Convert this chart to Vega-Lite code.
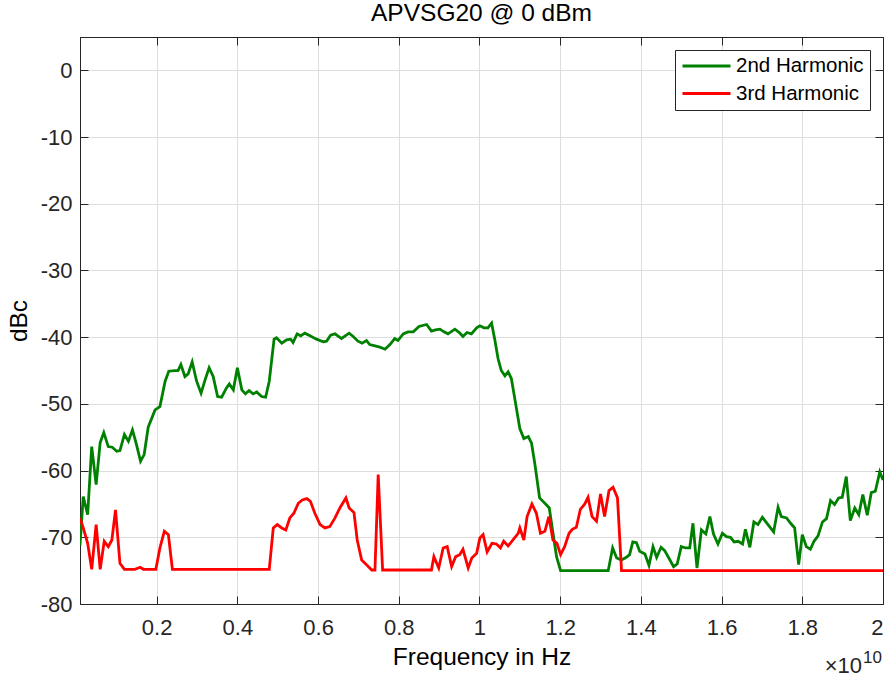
{
  "$schema": "https://vega.github.io/schema/vega-lite/v6.json",
  "width": 803,
  "height": 567,
  "autosize": {"type": "none"},
  "padding": {"left": 80, "top": 37, "right": 8, "bottom": 73},
  "title": {"text": "APVSG20 @ 0 dBm", "fontSize": 24.5, "font": "Liberation Sans", "fontWeight": "normal", "color": "#000000", "offset": 10},
  "data": {"values": [
    {"s":"2nd Harmonic","f":0.01,"db":-71.2},{"s":"2nd Harmonic","f":0.018,"db":-63.9},{"s":"2nd Harmonic","f":0.029,"db":-66.6},{"s":"2nd Harmonic","f":0.039,"db":-56.4},{"s":"2nd Harmonic","f":0.05,"db":-62.1},{"s":"2nd Harmonic","f":0.06,"db":-55.8},{"s":"2nd Harmonic","f":0.069,"db":-54.3},{"s":"2nd Harmonic","f":0.08,"db":-56.4},{"s":"2nd Harmonic","f":0.09,"db":-56.5},{"s":"2nd Harmonic","f":0.101,"db":-57.1},{"s":"2nd Harmonic","f":0.109,"db":-57.0},{"s":"2nd Harmonic","f":0.12,"db":-54.6},{"s":"2nd Harmonic","f":0.13,"db":-55.6},{"s":"2nd Harmonic","f":0.14,"db":-53.9},{"s":"2nd Harmonic","f":0.15,"db":-56.1},{"s":"2nd Harmonic","f":0.16,"db":-58.6},{"s":"2nd Harmonic","f":0.169,"db":-57.6},{"s":"2nd Harmonic","f":0.179,"db":-53.5},{"s":"2nd Harmonic","f":0.196,"db":-50.9},{"s":"2nd Harmonic","f":0.208,"db":-50.4},{"s":"2nd Harmonic","f":0.221,"db":-46.6},{"s":"2nd Harmonic","f":0.23,"db":-45.1},{"s":"2nd Harmonic","f":0.245,"db":-45.0},{"s":"2nd Harmonic","f":0.253,"db":-45.0},{"s":"2nd Harmonic","f":0.26,"db":-44.1},{"s":"2nd Harmonic","f":0.27,"db":-45.9},{"s":"2nd Harmonic","f":0.278,"db":-45.5},{"s":"2nd Harmonic","f":0.288,"db":-43.7},{"s":"2nd Harmonic","f":0.299,"db":-46.6},{"s":"2nd Harmonic","f":0.31,"db":-48.4},{"s":"2nd Harmonic","f":0.32,"db":-46.4},{"s":"2nd Harmonic","f":0.33,"db":-44.6},{"s":"2nd Harmonic","f":0.34,"db":-45.9},{"s":"2nd Harmonic","f":0.351,"db":-48.9},{"s":"2nd Harmonic","f":0.361,"db":-49.0},{"s":"2nd Harmonic","f":0.373,"db":-47.6},{"s":"2nd Harmonic","f":0.38,"db":-47.0},{"s":"2nd Harmonic","f":0.39,"db":-47.9},{"s":"2nd Harmonic","f":0.4,"db":-44.6},{"s":"2nd Harmonic","f":0.411,"db":-47.9},{"s":"2nd Harmonic","f":0.42,"db":-48.5},{"s":"2nd Harmonic","f":0.429,"db":-48.0},{"s":"2nd Harmonic","f":0.439,"db":-48.5},{"s":"2nd Harmonic","f":0.448,"db":-48.2},{"s":"2nd Harmonic","f":0.46,"db":-48.9},{"s":"2nd Harmonic","f":0.47,"db":-49.0},{"s":"2nd Harmonic","f":0.479,"db":-46.6},{"s":"2nd Harmonic","f":0.491,"db":-40.3},{"s":"2nd Harmonic","f":0.497,"db":-40.1},{"s":"2nd Harmonic","f":0.51,"db":-40.9},{"s":"2nd Harmonic","f":0.522,"db":-40.4},{"s":"2nd Harmonic","f":0.532,"db":-40.3},{"s":"2nd Harmonic","f":0.538,"db":-40.8},{"s":"2nd Harmonic","f":0.548,"db":-39.5},{"s":"2nd Harmonic","f":0.557,"db":-39.8},{"s":"2nd Harmonic","f":0.567,"db":-39.4},{"s":"2nd Harmonic","f":0.58,"db":-39.8},{"s":"2nd Harmonic","f":0.596,"db":-40.3},{"s":"2nd Harmonic","f":0.613,"db":-40.7},{"s":"2nd Harmonic","f":0.621,"db":-40.6},{"s":"2nd Harmonic","f":0.631,"db":-39.7},{"s":"2nd Harmonic","f":0.642,"db":-39.5},{"s":"2nd Harmonic","f":0.658,"db":-40.2},{"s":"2nd Harmonic","f":0.677,"db":-39.4},{"s":"2nd Harmonic","f":0.687,"db":-39.9},{"s":"2nd Harmonic","f":0.699,"db":-40.6},{"s":"2nd Harmonic","f":0.709,"db":-40.9},{"s":"2nd Harmonic","f":0.72,"db":-40.5},{"s":"2nd Harmonic","f":0.728,"db":-41.1},{"s":"2nd Harmonic","f":0.741,"db":-41.3},{"s":"2nd Harmonic","f":0.753,"db":-41.5},{"s":"2nd Harmonic","f":0.766,"db":-41.8},{"s":"2nd Harmonic","f":0.778,"db":-41.1},{"s":"2nd Harmonic","f":0.79,"db":-40.2},{"s":"2nd Harmonic","f":0.798,"db":-40.5},{"s":"2nd Harmonic","f":0.811,"db":-39.5},{"s":"2nd Harmonic","f":0.823,"db":-39.2},{"s":"2nd Harmonic","f":0.836,"db":-39.2},{"s":"2nd Harmonic","f":0.85,"db":-38.4},{"s":"2nd Harmonic","f":0.869,"db":-38.1},{"s":"2nd Harmonic","f":0.881,"db":-39.1},{"s":"2nd Harmonic","f":0.891,"db":-38.9},{"s":"2nd Harmonic","f":0.902,"db":-38.8},{"s":"2nd Harmonic","f":0.912,"db":-39.2},{"s":"2nd Harmonic","f":0.922,"db":-39.5},{"s":"2nd Harmonic","f":0.939,"db":-38.8},{"s":"2nd Harmonic","f":0.95,"db":-39.3},{"s":"2nd Harmonic","f":0.959,"db":-39.9},{"s":"2nd Harmonic","f":0.969,"db":-39.3},{"s":"2nd Harmonic","f":0.98,"db":-39.5},{"s":"2nd Harmonic","f":0.993,"db":-38.6},{"s":"2nd Harmonic","f":1.001,"db":-38.3},{"s":"2nd Harmonic","f":1.011,"db":-38.6},{"s":"2nd Harmonic","f":1.021,"db":-38.6},{"s":"2nd Harmonic","f":1.03,"db":-37.9},{"s":"2nd Harmonic","f":1.038,"db":-40.4},{"s":"2nd Harmonic","f":1.046,"db":-43.2},{"s":"2nd Harmonic","f":1.054,"db":-45.0},{"s":"2nd Harmonic","f":1.063,"db":-45.8},{"s":"2nd Harmonic","f":1.071,"db":-45.2},{"s":"2nd Harmonic","f":1.079,"db":-46.2},{"s":"2nd Harmonic","f":1.088,"db":-49.4},{"s":"2nd Harmonic","f":1.1,"db":-53.7},{"s":"2nd Harmonic","f":1.11,"db":-55.2},{"s":"2nd Harmonic","f":1.121,"db":-54.9},{"s":"2nd Harmonic","f":1.129,"db":-55.9},{"s":"2nd Harmonic","f":1.137,"db":-58.9},{"s":"2nd Harmonic","f":1.149,"db":-64.1},{"s":"2nd Harmonic","f":1.162,"db":-64.9},{"s":"2nd Harmonic","f":1.173,"db":-65.6},{"s":"2nd Harmonic","f":1.181,"db":-68.9},{"s":"2nd Harmonic","f":1.191,"db":-72.9},{"s":"2nd Harmonic","f":1.201,"db":-75.0},{"s":"2nd Harmonic","f":1.319,"db":-75.0},{"s":"2nd Harmonic","f":1.33,"db":-71.6},{"s":"2nd Harmonic","f":1.34,"db":-73.1},{"s":"2nd Harmonic","f":1.352,"db":-73.4},{"s":"2nd Harmonic","f":1.364,"db":-73.0},{"s":"2nd Harmonic","f":1.372,"db":-72.6},{"s":"2nd Harmonic","f":1.38,"db":-70.7},{"s":"2nd Harmonic","f":1.389,"db":-70.8},{"s":"2nd Harmonic","f":1.397,"db":-72.1},{"s":"2nd Harmonic","f":1.41,"db":-72.5},{"s":"2nd Harmonic","f":1.42,"db":-74.2},{"s":"2nd Harmonic","f":1.43,"db":-71.4},{"s":"2nd Harmonic","f":1.439,"db":-73.0},{"s":"2nd Harmonic","f":1.45,"db":-71.5},{"s":"2nd Harmonic","f":1.459,"db":-72.0},{"s":"2nd Harmonic","f":1.472,"db":-73.4},{"s":"2nd Harmonic","f":1.481,"db":-74.4},{"s":"2nd Harmonic","f":1.49,"db":-74.0},{"s":"2nd Harmonic","f":1.5,"db":-71.4},{"s":"2nd Harmonic","f":1.511,"db":-71.6},{"s":"2nd Harmonic","f":1.521,"db":-71.6},{"s":"2nd Harmonic","f":1.529,"db":-67.9},{"s":"2nd Harmonic","f":1.539,"db":-74.6},{"s":"2nd Harmonic","f":1.55,"db":-68.9},{"s":"2nd Harmonic","f":1.561,"db":-69.5},{"s":"2nd Harmonic","f":1.571,"db":-66.9},{"s":"2nd Harmonic","f":1.58,"db":-69.5},{"s":"2nd Harmonic","f":1.591,"db":-71.0},{"s":"2nd Harmonic","f":1.602,"db":-69.4},{"s":"2nd Harmonic","f":1.612,"db":-69.9},{"s":"2nd Harmonic","f":1.622,"db":-70.0},{"s":"2nd Harmonic","f":1.631,"db":-70.7},{"s":"2nd Harmonic","f":1.641,"db":-70.6},{"s":"2nd Harmonic","f":1.652,"db":-71.0},{"s":"2nd Harmonic","f":1.659,"db":-68.8},{"s":"2nd Harmonic","f":1.67,"db":-71.5},{"s":"2nd Harmonic","f":1.68,"db":-67.7},{"s":"2nd Harmonic","f":1.69,"db":-68.1},{"s":"2nd Harmonic","f":1.701,"db":-67.0},{"s":"2nd Harmonic","f":1.715,"db":-68.1},{"s":"2nd Harmonic","f":1.729,"db":-69.2},{"s":"2nd Harmonic","f":1.74,"db":-65.5},{"s":"2nd Harmonic","f":1.748,"db":-66.9},{"s":"2nd Harmonic","f":1.761,"db":-67.1},{"s":"2nd Harmonic","f":1.771,"db":-67.9},{"s":"2nd Harmonic","f":1.781,"db":-68.6},{"s":"2nd Harmonic","f":1.791,"db":-74.1},{"s":"2nd Harmonic","f":1.8,"db":-69.6},{"s":"2nd Harmonic","f":1.81,"db":-71.4},{"s":"2nd Harmonic","f":1.82,"db":-71.8},{"s":"2nd Harmonic","f":1.829,"db":-70.6},{"s":"2nd Harmonic","f":1.839,"db":-69.8},{"s":"2nd Harmonic","f":1.85,"db":-67.7},{"s":"2nd Harmonic","f":1.86,"db":-67.2},{"s":"2nd Harmonic","f":1.87,"db":-64.5},{"s":"2nd Harmonic","f":1.88,"db":-65.1},{"s":"2nd Harmonic","f":1.89,"db":-64.1},{"s":"2nd Harmonic","f":1.899,"db":-64.0},{"s":"2nd Harmonic","f":1.909,"db":-60.9},{"s":"2nd Harmonic","f":1.919,"db":-67.5},{"s":"2nd Harmonic","f":1.93,"db":-65.6},{"s":"2nd Harmonic","f":1.94,"db":-66.6},{"s":"2nd Harmonic","f":1.95,"db":-63.6},{"s":"2nd Harmonic","f":1.961,"db":-66.7},{"s":"2nd Harmonic","f":1.971,"db":-63.3},{"s":"2nd Harmonic","f":1.981,"db":-63.1},{"s":"2nd Harmonic","f":1.992,"db":-60.2},{"s":"2nd Harmonic","f":2.0,"db":-61.4},
    {"s":"3rd Harmonic","f":0.01,"db":-67.1},{"s":"3rd Harmonic","f":0.018,"db":-68.6},{"s":"3rd Harmonic","f":0.029,"db":-70.9},{"s":"3rd Harmonic","f":0.039,"db":-74.8},{"s":"3rd Harmonic","f":0.05,"db":-68.1},{"s":"3rd Harmonic","f":0.06,"db":-74.8},{"s":"3rd Harmonic","f":0.07,"db":-70.6},{"s":"3rd Harmonic","f":0.08,"db":-71.4},{"s":"3rd Harmonic","f":0.089,"db":-70.4},{"s":"3rd Harmonic","f":0.098,"db":-65.9},{"s":"3rd Harmonic","f":0.109,"db":-73.9},{"s":"3rd Harmonic","f":0.12,"db":-74.8},{"s":"3rd Harmonic","f":0.146,"db":-74.8},{"s":"3rd Harmonic","f":0.159,"db":-74.5},{"s":"3rd Harmonic","f":0.167,"db":-74.8},{"s":"3rd Harmonic","f":0.198,"db":-74.8},{"s":"3rd Harmonic","f":0.208,"db":-71.6},{"s":"3rd Harmonic","f":0.219,"db":-69.1},{"s":"3rd Harmonic","f":0.229,"db":-69.6},{"s":"3rd Harmonic","f":0.239,"db":-74.8},{"s":"3rd Harmonic","f":0.479,"db":-74.8},{"s":"3rd Harmonic","f":0.489,"db":-68.6},{"s":"3rd Harmonic","f":0.499,"db":-68.1},{"s":"3rd Harmonic","f":0.51,"db":-68.6},{"s":"3rd Harmonic","f":0.52,"db":-68.9},{"s":"3rd Harmonic","f":0.53,"db":-67.1},{"s":"3rd Harmonic","f":0.54,"db":-66.4},{"s":"3rd Harmonic","f":0.551,"db":-64.9},{"s":"3rd Harmonic","f":0.561,"db":-64.4},{"s":"3rd Harmonic","f":0.572,"db":-64.2},{"s":"3rd Harmonic","f":0.581,"db":-64.6},{"s":"3rd Harmonic","f":0.592,"db":-66.4},{"s":"3rd Harmonic","f":0.605,"db":-68.1},{"s":"3rd Harmonic","f":0.617,"db":-68.6},{"s":"3rd Harmonic","f":0.629,"db":-68.4},{"s":"3rd Harmonic","f":0.642,"db":-67.1},{"s":"3rd Harmonic","f":0.654,"db":-65.6},{"s":"3rd Harmonic","f":0.669,"db":-64.1},{"s":"3rd Harmonic","f":0.677,"db":-65.6},{"s":"3rd Harmonic","f":0.689,"db":-66.3},{"s":"3rd Harmonic","f":0.697,"db":-70.4},{"s":"3rd Harmonic","f":0.708,"db":-73.4},{"s":"3rd Harmonic","f":0.72,"db":-74.1},{"s":"3rd Harmonic","f":0.733,"db":-74.9},{"s":"3rd Harmonic","f":0.741,"db":-74.9},{"s":"3rd Harmonic","f":0.749,"db":-60.6},{"s":"3rd Harmonic","f":0.76,"db":-74.9},{"s":"3rd Harmonic","f":0.881,"db":-74.9},{"s":"3rd Harmonic","f":0.887,"db":-72.9},{"s":"3rd Harmonic","f":0.899,"db":-74.6},{"s":"3rd Harmonic","f":0.91,"db":-71.6},{"s":"3rd Harmonic","f":0.92,"db":-71.4},{"s":"3rd Harmonic","f":0.931,"db":-74.4},{"s":"3rd Harmonic","f":0.941,"db":-72.9},{"s":"3rd Harmonic","f":0.951,"db":-72.6},{"s":"3rd Harmonic","f":0.959,"db":-71.8},{"s":"3rd Harmonic","f":0.972,"db":-74.6},{"s":"3rd Harmonic","f":0.981,"db":-73.1},{"s":"3rd Harmonic","f":0.993,"db":-72.4},{"s":"3rd Harmonic","f":1.001,"db":-70.1},{"s":"3rd Harmonic","f":1.009,"db":-69.6},{"s":"3rd Harmonic","f":1.019,"db":-72.2},{"s":"3rd Harmonic","f":1.031,"db":-70.9},{"s":"3rd Harmonic","f":1.042,"db":-71.0},{"s":"3rd Harmonic","f":1.052,"db":-71.6},{"s":"3rd Harmonic","f":1.06,"db":-70.6},{"s":"3rd Harmonic","f":1.071,"db":-71.3},{"s":"3rd Harmonic","f":1.083,"db":-70.4},{"s":"3rd Harmonic","f":1.096,"db":-69.4},{"s":"3rd Harmonic","f":1.1,"db":-68.6},{"s":"3rd Harmonic","f":1.11,"db":-70.4},{"s":"3rd Harmonic","f":1.118,"db":-66.9},{"s":"3rd Harmonic","f":1.13,"db":-65.0},{"s":"3rd Harmonic","f":1.141,"db":-66.4},{"s":"3rd Harmonic","f":1.151,"db":-69.4},{"s":"3rd Harmonic","f":1.162,"db":-69.1},{"s":"3rd Harmonic","f":1.172,"db":-66.9},{"s":"3rd Harmonic","f":1.182,"db":-70.4},{"s":"3rd Harmonic","f":1.192,"db":-70.9},{"s":"3rd Harmonic","f":1.201,"db":-72.6},{"s":"3rd Harmonic","f":1.211,"db":-71.4},{"s":"3rd Harmonic","f":1.222,"db":-69.4},{"s":"3rd Harmonic","f":1.23,"db":-68.8},{"s":"3rd Harmonic","f":1.24,"db":-68.5},{"s":"3rd Harmonic","f":1.25,"db":-65.8},{"s":"3rd Harmonic","f":1.261,"db":-65.0},{"s":"3rd Harmonic","f":1.269,"db":-64.0},{"s":"3rd Harmonic","f":1.279,"db":-66.9},{"s":"3rd Harmonic","f":1.29,"db":-67.6},{"s":"3rd Harmonic","f":1.3,"db":-63.5},{"s":"3rd Harmonic","f":1.31,"db":-66.9},{"s":"3rd Harmonic","f":1.321,"db":-63.0},{"s":"3rd Harmonic","f":1.331,"db":-62.5},{"s":"3rd Harmonic","f":1.342,"db":-64.1},{"s":"3rd Harmonic","f":1.352,"db":-75.0},{"s":"3rd Harmonic","f":2.0,"db":-75.0}
  ]},
  "layer": [
    {
      "mark": {"type": "line", "strokeWidth": 2.8, "clip": true},
      "encoding": {
        "x": {"field": "f", "type": "quantitative", "scale": {"domain": [0.01, 2], "nice": false, "zero": false},
              "axis": {"values": [0.2,0.4,0.6,0.8,1,1.2,1.4,1.6,1.8,2], "labelExpr": "toString(datum.value)", "title": "Frequency in Hz", "titlePadding": 7, "labelPadding": 21}},
        "y": {"field": "db", "type": "quantitative", "scale": {"domain": [-80, 5], "nice": false, "zero": false},
              "axis": {"values": [-80,-70,-60,-50,-40,-30,-20,-10,0], "labelExpr": "toString(datum.value)", "title": "dBc", "titlePadding": 9, "labelPadding": 16}},
        "color": {"field": "s", "type": "nominal", "scale": {"domain": ["2nd Harmonic", "3rd Harmonic"], "range": ["#008000", "#ff0000"]}, "legend": {"title": null}}
      }
    },
    {
      "mark": {"type": "line", "strokeOpacity": 0},
      "encoding": {
        "x": {"field": "f", "type": "quantitative", "axis": {"orient": "top", "values": [0.2,0.4,0.6,0.8,1,1.2,1.4,1.6,1.8,2], "labels": false, "grid": false, "title": null}},
        "y": {"field": "db", "type": "quantitative", "axis": {"orient": "right", "values": [-80,-70,-60,-50,-40,-30,-20,-10,0], "labels": false, "grid": false, "title": null}},
        "detail": {"field": "s"}
      }
    },
    {
      "data": {"values": [{"label": "×10"}]},
      "mark": {"type": "text", "align": "right", "baseline": "alphabetic", "dx": -21, "dy": 69, "fontSize": 22, "font": "Liberation Sans", "color": "#262626"},
      "encoding": {"text": {"field": "label"}, "x": {"datum": 2, "type": "quantitative", "axis": null}, "y": {"datum": -80, "type": "quantitative", "axis": null}}
    },
    {
      "data": {"values": [{"label": "10"}]},
      "mark": {"type": "text", "align": "left", "baseline": "alphabetic", "dx": -20, "dy": 59, "fontSize": 17, "font": "Liberation Sans", "color": "#262626"},
      "encoding": {"text": {"field": "label"}, "x": {"datum": 2, "type": "quantitative", "axis": null}, "y": {"datum": -80, "type": "quantitative", "axis": null}}
    }
  ],
  "resolve": {"axis": {"x": "independent", "y": "independent"}},
  "config": {
    "font": "Liberation Sans",
    "view": {"stroke": "#262626", "strokeWidth": 1},
    "axis": {
      "domainColor": "#262626", "tickColor": "#262626", "tickSize": -8, "tickWidth": 1,
      "labelColor": "#262626", "labelFont": "Liberation Sans", "labelFontSize": 22,
      "titleColor": "#000000", "titleFont": "Liberation Sans", "titleFontSize": 24.5, "titleFontWeight": "normal",
      "gridColor": "#dedede", "gridWidth": 1
    },
    "legend": {
      "orient": "top-right", "offset": 13, "strokeColor": "#262626", "fillColor": "#ffffff", "padding": 6,
      "symbolType": "stroke", "symbolSize": 2304, "symbolStrokeWidth": 3, "labelFontSize": 20.5, "labelFont": "Liberation Sans",
      "labelColor": "#000000", "labelOffset": 4, "clipHeight": 20, "rowPadding": 6.5, "cornerRadius": 0
    }
  }
}
